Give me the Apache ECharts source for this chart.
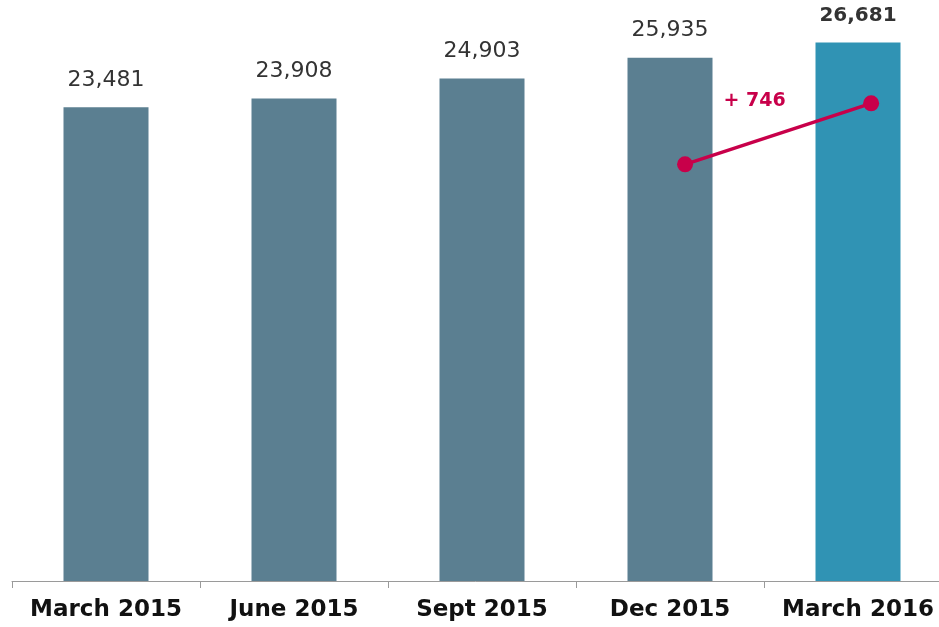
<!DOCTYPE html>
<html>
<head>
<meta charset="utf-8">
<script src="https://cdn.jsdelivr.net/npm/echarts@6/dist/echarts.min.js"></script>
<style>
  html, body { margin: 0; padding: 0; background: #fff; }
  #chart { width: 939px; height: 627px; }
</style>
</head>
<body>
<div id="chart"></div>
<script>
const categories = ["March 2015", "June 2015", "Sept 2015", "Dec 2015", "March 2016"];
const values = [23481, 23908, 24903, 25935, 26681];

// decorative change line between the last two quarters (x in category units, y in axis units)
const trendPoints = [[3.58, 20650], [4.57, 23670]];
const changeLabelPos = [3.95, 23760];

const barColor = "#5b7f91";
const lastBarColor = "#3093b4";
const accent = "#c8004a";

const fmt = v => v.toLocaleString("en-US");
const last = values.length - 1;
const change = values[last] - values[last - 1];

const chart = echarts.init(document.getElementById("chart"));

chart.setOption({
  animation: false,
  grid: { left: 12, top: 16, width: 940, height: 565, outerBoundsMode: "none", containLabel: false },
  xAxis: [
    {
      type: "category",
      data: categories,
      axisLine: { lineStyle: { color: "#9a9a9a", width: 1 } },
      axisTick: { show: true, length: 7, lineStyle: { color: "#9a9a9a" } },
      axisLabel: {
        interval: 0,
        hideOverlap: false,
        color: "#111",
        fontFamily: "DejaVu Sans",
        fontWeight: "bold",
        fontSize: 23,
        margin: 18
      }
    },
    { type: "value", min: 0, max: 5, show: false }
  ],
  yAxis: { type: "value", min: 0, max: 28000, show: false },
  series: [
    {
      type: "bar",
      barWidth: 85,
      data: values.map((v, i) => ({
        value: v,
        itemStyle: { color: i === last ? lastBarColor : barColor },
        label: i === last ? { fontWeight: "bold", fontSize: 20, distance: 17 } : {}
      })),
      label: {
        show: true,
        position: "top",
        distance: 16,
        color: "#333",
        fontFamily: "DejaVu Sans",
        fontSize: 22,
        formatter: p => fmt(p.value)
      }
    },
    {
      type: "line",
      xAxisIndex: 1,
      data: trendPoints,
      symbol: "circle",
      symbolSize: 16,
      lineStyle: { color: accent, width: 3.5 },
      itemStyle: { color: accent },
      z: 5
    },
    {
      type: "scatter",
      xAxisIndex: 1,
      symbolSize: 0,
      itemStyle: { opacity: 1 },
      data: [changeLabelPos],
      label: {
        show: true,
        position: "inside",
        formatter: "+ " + change,
        color: accent,
        opacity: 1,
        fontFamily: "DejaVu Sans",
        fontWeight: "bold",
        fontSize: 19
      }
    }
  ]
});
</script>
</body>
</html>
